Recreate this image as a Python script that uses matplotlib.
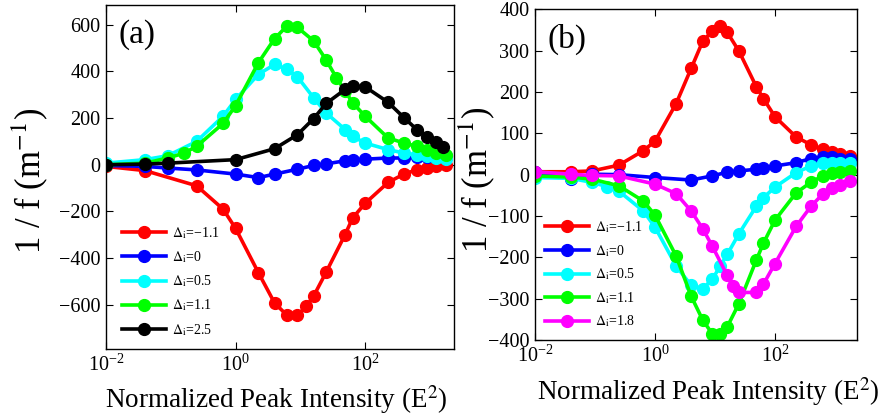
import matplotlib
matplotlib.use("Agg")
import matplotlib.pyplot as plt
from matplotlib.ticker import LogFormatterMathtext, NullLocator, FixedLocator

plt.rcParams['font.family'] = ['Liberation Serif', 'DejaVu Serif']
plt.rcParams['mathtext.fontset'] = 'stix'

# ---------------- Panel (a) data ----------------
xa_red = [0.01, 0.04, 0.25, 0.64, 1, 2.25, 4, 6.25, 9, 12.25, 16, 25, 49, 64, 100, 225, 400, 625, 900, 1225, 1764]
ya_red = [-7, -25, -90, -190, -273, -463, -593, -646, -646, -607, -563, -460, -299, -228, -165, -76, -39, -22, -14, -7, -3]

xa_blue = [0.01, 0.04, 0.09, 0.25, 1, 2.25, 4, 9, 16, 25, 49, 64, 100, 225, 400, 625, 900, 1225, 1764]
ya_blue = [-3, -7, -14, -22, -40, -55, -40, -19, -3, 4, 17, 20, 24, 29, 29, 32, 33, 36, 39]

xa_cyan = [0.01, 0.04, 0.09, 0.25, 0.64, 1, 2.25, 4, 6.25, 9, 16, 25, 49, 64, 100, 225, 400, 625, 900, 1225, 1764]
ya_cyan = [7, 22, 39, 100, 208, 280, 388, 430, 409, 377, 287, 222, 151, 122, 93, 65, 50, 43, 36, 29, 24]

xa_green = [0.01, 0.04, 0.09, 0.16, 0.25, 0.64, 1, 2.25, 4, 6.25, 9, 16, 25, 36, 49, 64, 100, 225, 400, 625, 900, 1225, 1764]
ya_green = [0, 7, 29, 50, 79, 177, 254, 438, 541, 596, 589, 531, 449, 373, 316, 266, 208, 115, 93, 79, 65, 50, 43]

xa_black = [0.01, 0.04, 0.09, 1, 4, 9, 16, 25, 49, 64, 100, 225, 400, 625, 900, 1225, 1600]
ya_black = [0, 3, 7, 22, 69, 129, 198, 263, 323, 337, 334, 268, 201, 151, 119, 96, 76]

labels_a = ['$\\Delta_{\\mathrm{i}}$=\u22121.1', '$\\Delta_{\\mathrm{i}}$=0', '$\\Delta_{\\mathrm{i}}$=0.5',
            '$\\Delta_{\\mathrm{i}}$=1.1', '$\\Delta_{\\mathrm{i}}$=2.5']

# ---------------- Panel (b) data ----------------
xb_red = [0.01, 0.04, 0.09, 0.25, 0.64, 1, 2.25, 4, 6.25, 9, 12.25, 16, 25, 49, 64, 100, 225, 400, 625, 900, 1225, 1764]
yb_red = [7, 7, 9, 23, 58, 81, 172, 257, 323, 347, 360, 344, 299, 212, 184, 140, 91, 72, 61, 55, 51, 45]

xb_blue = [0.01, 0.04, 0.09, 0.25, 1, 4, 9, 16, 25, 49, 64, 100, 225, 400, 625, 900, 1225, 1764]
yb_blue = [7, -11, 1, 0, -7, -13, -3, 6, 9, 13, 17, 21, 29, 39, 42, 42, 39, 37]

xb_cyan = [0.01, 0.04, 0.09, 0.16, 0.25, 0.64, 1, 2.25, 4, 6.25, 9, 12.25, 16, 25, 49, 64, 100, 225, 400, 625, 900, 1225, 1764]
yb_cyan = [-7, -9, -19, -29, -40, -88, -127, -221, -268, -276, -253, -221, -193, -143, -76, -56, -30, 5, 21, 27, 29, 29, 29]

xb_green = [0.01, 0.04, 0.09, 0.25, 0.64, 1, 2.25, 4, 6.25, 9, 12.25, 16, 25, 49, 64, 100, 225, 400, 625, 900, 1225, 1764]
yb_green = [-3, -6, -11, -27, -64, -98, -197, -294, -352, -385, -385, -368, -312, -206, -166, -110, -44, -18, -3, 3, 7, 9]

xb_mag = [0.01, 0.04, 0.09, 0.25, 1, 2.25, 4, 6.25, 9, 16, 20.25, 25, 49, 64, 100, 225, 400, 625, 900, 1225, 1764]
yb_mag = [7, 1, -2, -3, -23, -46, -88, -131, -173, -244, -269, -285, -285, -265, -215, -125, -76, -47, -33, -25, -15]

labels_b = ['$\\Delta_{\\mathrm{i}}$=\u22121.1', '$\\Delta_{\\mathrm{i}}$=0', '$\\Delta_{\\mathrm{i}}$=0.5',
            '$\\Delta_{\\mathrm{i}}$=1.1', '$\\Delta_{\\mathrm{i}}$=1.8']

XTICKS = [1e-2, 1e0, 1e2]
XLIM = (1e-2, 2350)

fig = plt.figure(figsize=(8.82, 4.17), dpi=100)
axa = fig.add_axes([0.1202, 0.163, 0.3946, 0.825])
axb = fig.add_axes([0.6066, 0.1847, 0.3654, 0.793])

style = dict(lw=2.6, marker='o', markersize=8.5)

series_a = [(xa_red, ya_red, (1, 0, 0)), (xa_blue, ya_blue, (0, 0, 1)), (xa_cyan, ya_cyan, (0, 1, 1)),
            (xa_green, ya_green, (0, 1, 0)), (xa_black, ya_black, (0, 0, 0))]
series_b = [(xb_red, yb_red, (1, 0, 0)), (xb_blue, yb_blue, (0, 0, 1)), (xb_cyan, yb_cyan, (0, 1, 1)),
            (xb_green, yb_green, (0, 1, 0)), (xb_mag, yb_mag, (1, 0, 1))]

for (x, y, c), lab in zip(series_a, labels_a):
    axa.plot(x, y, color=c, label=lab, **style)
for (x, y, c), lab in zip(series_b, labels_b):
    axb.plot(x, y, color=c, label=lab, **style)

def setup(ax, ylim, yticks):
    ax.set_xscale('log')
    ax.set_xlim(*XLIM)
    ax.set_ylim(*ylim)
    ax.xaxis.set_major_locator(FixedLocator(XTICKS))
    ax.xaxis.set_minor_locator(NullLocator())
    ax.xaxis.set_major_formatter(LogFormatterMathtext())
    ax.set_yticks(yticks)
    ax.set_yticklabels([str(v).replace('-', '\u2212') for v in yticks])
    ax.tick_params(direction='in', length=5, width=0.8, top=True, right=True, labelsize=14.5, pad=4)
    for s in ax.spines.values():
        s.set_linewidth(1.0)

setup(axa, (-790, 685), [-600, -400, -200, 0, 200, 400, 600])
setup(axb, (-400, 400), [-400, -300, -200, -100, 0, 100, 200, 300, 400])

for ax in (axa, axb):
    ax.set_xlabel('Normalized Peak Intensity (E$^2$)', fontsize=19.5)
axa.xaxis.set_label_coords(0.49, -0.099)
axb.xaxis.set_label_coords(0.537, -0.106)

axa.set_ylabel('1 / f (m$^{-1}$)', fontsize=25)
axa.yaxis.set_label_coords(-0.161, 0.49)
axb.set_ylabel('1 / f (m$^{-1}$)', fontsize=25)
axb.yaxis.set_label_coords(-0.118, 0.485)

axa.text(0.037, 0.913, '(a)', transform=axa.transAxes, fontsize=24, va='center', ha='left')
axb.text(0.04, 0.91, '(b)', transform=axb.transAxes, fontsize=24, va='center', ha='left')

leg_kw = dict(frameon=False, fontsize=10, handlelength=3.2, handletextpad=0.4,
              borderpad=0, borderaxespad=0, loc='upper left')
axa.legend(bbox_to_anchor=(0.045, 0.36), labelspacing=0.6, **leg_kw)
axb.legend(bbox_to_anchor=(0.03, 0.365), labelspacing=0.56, **leg_kw)

fig.savefig('out.png', dpi=100)
